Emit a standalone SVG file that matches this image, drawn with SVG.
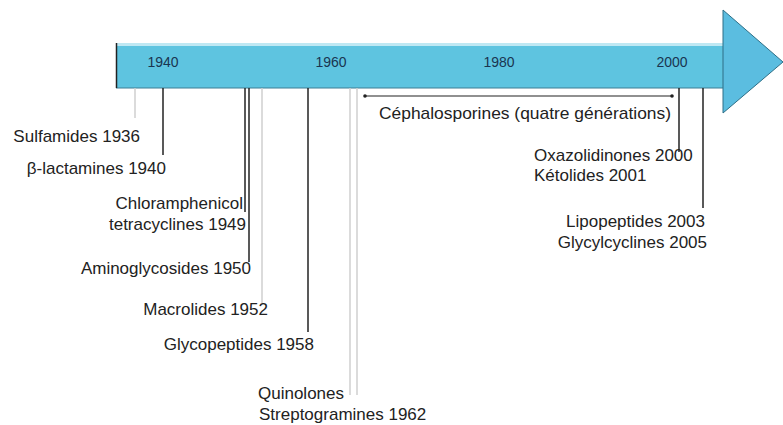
<svg xmlns="http://www.w3.org/2000/svg" width="783" height="425" viewBox="0 0 783 425">
<style>
text{font-family:"Liberation Sans",Arial,sans-serif;font-size:17px;fill:#222}
.yr{font-size:14px;fill:#1a3550;text-anchor:middle}
.e{text-anchor:end}
.dk{stroke:#222;stroke-width:1.5}
.lt{stroke:#cfcfcf;stroke-width:1.5}
</style>
<defs>
<marker id="tk" viewBox="0 0 4 4" refX="2" refY="2" markerWidth="4" markerHeight="4" orient="auto"><circle cx="2" cy="2" r="1.5" fill="#222"/></marker>
</defs>
<g id="timeline">
<rect x="116" y="43" width="607" height="45" fill="#5ec4e0"/>
<rect x="116" y="43" width="607" height="3" fill="#bfe8f3"/>
<line x1="116" y1="88" x2="723" y2="88" stroke="#3c7f95" stroke-width="1"/>
<line x1="116.5" y1="43" x2="116.5" y2="88" stroke="#222" stroke-width="1.5"/>
<polygon points="723,10 783,62 723,113" fill="#5bbde0" stroke="#2f6f86" stroke-width="1"/>
<text class="yr" x="163" y="67">1940</text>
<text class="yr" x="331" y="67">1960</text>
<text class="yr" x="499" y="67">1980</text>
<text class="yr" x="672" y="67">2000</text>
</g>
<g id="connectors">
<line class="lt" x1="135" y1="88" x2="135" y2="118"/>
<line class="dk" x1="163" y1="88" x2="163" y2="155"/>
<line class="dk" x1="245" y1="88" x2="245" y2="212"/>
<line class="dk" x1="249" y1="88" x2="249" y2="262"/>
<line class="lt" x1="262" y1="88" x2="262" y2="303"/>
<line class="dk" x1="308" y1="88" x2="308" y2="332"/>
<line class="lt" x1="350" y1="88" x2="350" y2="395"/>
<line class="lt" x1="357" y1="88" x2="357" y2="395"/>
<line class="dk" x1="679" y1="88" x2="679" y2="152"/>
<line class="dk" x1="703" y1="88" x2="703" y2="208"/>
<line x1="365" y1="96" x2="672" y2="96" stroke="#222" stroke-width="1.2" marker-start="url(#tk)" marker-end="url(#tk)"/>
</g>
<g id="n-sulfamides"><text class="e" x="140" y="142">Sulfamides 1936</text></g>
<g id="n-betalactamines"><text class="e" x="166" y="174">β-lactamines 1940</text></g>
<g id="n-chloramphenicol"><text class="e" x="243" y="209">Chloramphenicol</text><text class="e" x="246" y="230">tetracyclines 1949</text></g>
<g id="n-aminoglycosides"><text class="e" x="251" y="274">Aminoglycosides 1950</text></g>
<g id="n-macrolides"><text class="e" x="268" y="315">Macrolides 1952</text></g>
<g id="n-glycopeptides"><text class="e" x="314" y="350">Glycopeptides 1958</text></g>
<g id="n-quinolones"><text x="258" y="399">Quinolones</text><text x="259" y="420">Streptogramines 1962</text></g>
<g id="n-cephalosporines"><text x="379" y="119" textLength="292" lengthAdjust="spacingAndGlyphs">Céphalosporines (quatre générations)</text></g>
<g id="n-oxazolidinones"><text x="534" y="161">Oxazolidinones 2000</text><text x="534" y="181">Kétolides 2001</text></g>
<g id="n-lipopeptides"><text class="e" x="705" y="227">Lipopeptides 2003</text><text class="e" x="707" y="248">Glycylcyclines 2005</text></g>
</svg>
